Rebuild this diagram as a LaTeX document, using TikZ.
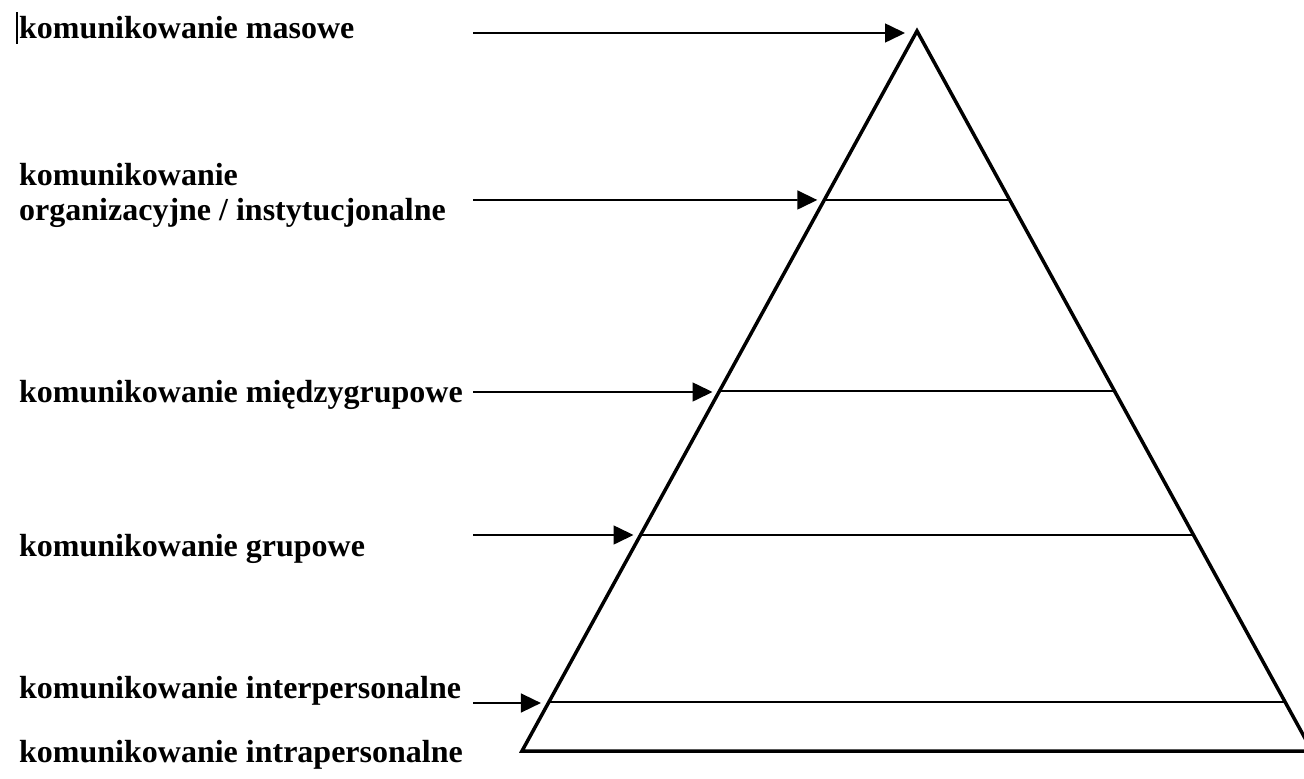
\documentclass[tikz,border=0pt]{standalone}
\usepackage{fontspec}
\setmainfont{Liberation Serif}
\usetikzlibrary{arrows.meta,calc}
\begin{document}
\begin{tikzpicture}[x=1pt,y=-1pt,
  lbl/.style={anchor=base west,inner sep=0pt,font=\fontsize{32}{35}\selectfont\bfseries},
  arr/.style={line width=1.6pt,-{Triangle[length=20pt,width=19pt]}},
  tri/.style={line width=3.5pt,line join=miter},
  lvl/.style={line width=2.2pt}]
\useasboundingbox (0,0) rectangle (1304,779);
% triangle
\coordinate (A) at (917,31);
\coordinate (BL) at (522,751);
\coordinate (BR) at (1312,751);
\draw[tri] (BL) -- (A) -- (BR) -- cycle;
% levels
\foreach \t/\n in {0.2347/a,0.5/b,0.7/c,0.9319/d}{
  \coordinate (L\n) at ($(A)!\t!(BL)$);
  \coordinate (R\n) at ($(A)!\t!(BR)$);
  \draw[lvl] (L\n) -- (R\n);
}
% cursor
\draw[line width=1.5pt] (17,12) -- (17,44);
% labels
\node[lbl] (t1) at (19,38) {komunikowanie masowe};
\node[lbl] (t2a) at (19,185) {komunikowanie};
\node[lbl] (t2b) at (19,220) {organizacyjne / instytucjonalne};
\node[lbl] (t3) at (19,402) {komunikowanie międzygrupowe};
\node[lbl] (t4) at (19,556) {komunikowanie grupowe};
\node[lbl] (t5) at (19,698) {komunikowanie interpersonalne};
\node[lbl] (t6) at (19,762) {komunikowanie intrapersonalne};
% arrows
\coordinate (s1) at (473,33);  \coordinate (e1) at (905,33);
\coordinate (s2) at (473,200);
\coordinate (s3) at (473,392);
\coordinate (s4) at (473,535);
\coordinate (s5) at (473,703);
\draw[arr] (s1) -- (e1);
\draw[arr,shorten >=7pt] (s2) -- (La);
\draw[arr,shorten >=7pt] (s3) -- (s3 -| Lb);
\draw[arr,shorten >=7pt] (s4) -- (Lc);
\draw[arr,shorten >=8pt] (s5) -- (s5 -| Ld);
\end{tikzpicture}
\end{document}
